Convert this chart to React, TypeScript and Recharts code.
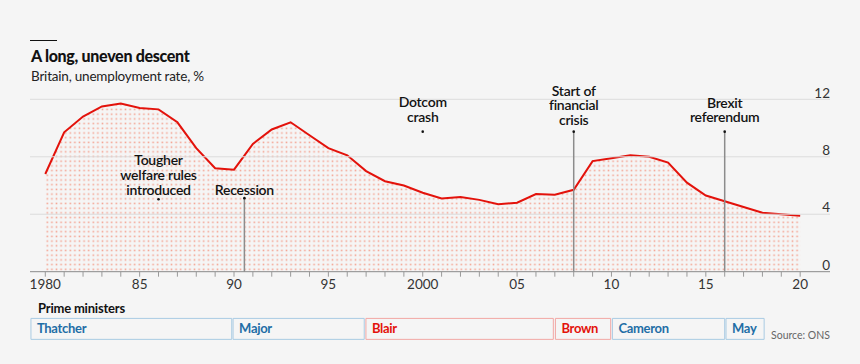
import React from "react";
import {
  Area,
  ComposedChart,
  ReferenceArea,
  ReferenceDot,
  ReferenceLine,
  XAxis,
  YAxis,
} from "recharts";

const years = [
  1980, 1981, 1982, 1983, 1984, 1985, 1986, 1987, 1988, 1989,
  1990, 1991, 1992, 1993, 1994, 1995, 1996, 1997, 1998, 1999,
  2000, 2001, 2002, 2003, 2004, 2005, 2006, 2007, 2008, 2009,
  2010, 2011, 2012, 2013, 2014, 2015, 2016, 2017, 2018, 2019, 2020,
];
const unemployment = [
  6.8, 9.7, 10.8, 11.5, 11.7, 11.4, 11.3, 10.4, 8.6, 7.2,
  7.1, 8.9, 9.9, 10.4, 9.5, 8.6, 8.1, 7.0, 6.3, 6.0,
  5.5, 5.1, 5.2, 5.0, 4.7, 4.8, 5.4, 5.35, 5.7, 7.7,
  7.9, 8.1, 8.0, 7.6, 6.2, 5.3, 4.9, 4.5, 4.1, 4.0, 3.9,
];

const xLabelYears = [1980, 1985, 1990, 1995, 2000, 2005, 2010, 2015, 2020];
const xLabels = ["1980", "85", "90", "95", "2000", "05", "10", "15", "20"];
const yTicks = [0, 4, 8, 12];

const noteText = [
  ["Tougher", "welfare rules", "introduced"],
  ["Recession"],
  ["Dotcom", "crash"],
  ["Start of", "financial", "crisis"],
  ["Brexit", "referendum"],
];
const noteYear = [1986, 1990.55, 2000, 2008, 2016];
const noteTop = [5.04, 5.12, 9.75, 9.75, 9.75];
const noteHasLine = [false, true, false, true, true];
const noteGap = [4.6, 3.5, 10, 6.7, 9.4];

const pmNames = ["Thatcher", "Major", "Blair", "Brown", "Cameron", "May"];
const pmStart = [1979.24, 1989.95, 1996.99, 2007.03, 2010.05, 2016.07];
const pmEnd = [1989.88, 1996.9, 2006.92, 2009.96, 2016.0, 2018.09];
const pmParty = ["con", "con", "lab", "lab", "con", "con"];

const FONT = "Lato, 'Open Sans', Roboto, sans-serif";
const RED = "#e3120b";
const BLUE = "#1f6ea6";
const BG = "#f5f5f5";

const data = years.map((year, i) => ({ year, rate: unemployment[i] }));

const XTick = (props: any) => {
  const { x, y, payload } = props;
  const idx = xLabelYears.indexOf(payload.value);
  if (idx < 0) return null;
  return (
    <text x={x} y={y + 10} textAnchor="middle" fontSize={13.5} fill="#333" fontFamily={FONT}>
      {xLabels[idx]}
    </text>
  );
};

const GridLabel = ({ viewBox, value }: any) => (
  <text
    x={viewBox.x + viewBox.width}
    y={viewBox.y - 1.8}
    textAnchor="end"
    fontSize={13.5}
    fill="#333"
    fontFamily={FONT}
  >
    {value}
  </text>
);

const NoteLabel = ({ viewBox, lines, gap }: any) => {
  const cx = viewBox.x + viewBox.width / 2;
  const cy = viewBox.y + viewBox.height / 2;
  const base = cy - gap;
  return (
    <text
      textAnchor="middle"
      fontSize={14}
      fontWeight={600}
      letterSpacing={-0.25}
      fill="#121212"
      fontFamily={FONT}
    >
      {lines.map((l: string, i: number) => (
        <tspan key={i} x={cx} y={base - (lines.length - 1 - i) * 14.6}>
          {l}
        </tspan>
      ))}
    </text>
  );
};

const PmLabel = ({ viewBox, name, color }: any) => (
  <text
    x={viewBox.x + 6}
    y={viewBox.y + viewBox.height / 2 + 4.5}
    fontSize={13}
    letterSpacing={-0.3}
    fontWeight="bold"
    fill={color}
    fontFamily={FONT}
  >
    {name}
  </text>
);

export default function App() {
  return (
    <div
      style={{
        position: "absolute",
        left: 0,
        top: 0,
        width: 860,
        height: 364,
        background: BG,
        fontFamily: FONT,
        overflow: "hidden",
      }}
    >
      <div style={{ position: "absolute", left: 30, top: 39.5, width: 27, height: 1.3, background: "#111" }} />
      <div
        style={{
          position: "absolute",
          left: 31,
          top: 44.5,
          fontSize: 16,
          letterSpacing: -0.3,
          lineHeight: "22px",
          fontWeight: 900,
          color: "#121212",
        }}
      >
        A long, uneven descent
      </div>
      <div
        style={{
          position: "absolute",
          left: 31,
          top: 67,
          fontSize: 13.5,
          letterSpacing: -0.2,
          lineHeight: "18px",
          color: "#222",
        }}
      >
        Britain, unemployment rate, %
      </div>

      <div style={{ position: "absolute", left: 0, top: 0 }}>
        <ComposedChart
          width={860}
          height={364}
          data={data}
          margin={{ top: 99.3, right: 30, bottom: 72.3, left: 30 }}
        >
          <defs>
            <pattern id="dots" x={45} y={271.7} width={4.6} height={4.7} patternUnits="userSpaceOnUse">
              <rect x={1.5} y={1.5} width={1.6} height={1.6} fill="#f4907b" fillOpacity={0.8} />
            </pattern>
          </defs>
          <XAxis
            dataKey="year"
            type="number"
            domain={[1979.19, 2021.58]}
            ticks={years}
            interval={0}
            height={20}
            tick={<XTick />}
            tickSize={5}
            tickLine={{ stroke: "#9a9a9a" }}
            axisLine={{ stroke: "#8a8a8a" }}
            allowDataOverflow
          />
          <YAxis hide domain={[0, 12]} ticks={yTicks} />
          {yTicks.map((t) => (
            <ReferenceLine
              key={`g${t}`}
              y={t}
              stroke={t === 0 ? "none" : "#dcdcdc"}
              strokeWidth={1}
              label={(p: any) => <GridLabel {...p} value={t} />}
            />
          ))}
          <Area
            type="linear"
            dataKey="rate"
            stroke={RED}
            strokeWidth={2}
            fill="url(#dots)"
            fillOpacity={1}
            dot={false}
            activeDot={false}
            isAnimationActive={false}
          />
          {noteYear.map((yr, i) =>
            noteHasLine[i] ? (
              <ReferenceLine
                key={`l${i}`}
                segment={[
                  { x: yr, y: noteTop[i] },
                  { x: yr, y: 0 },
                ]}
                stroke="#8c8c8c"
                strokeWidth={1.5}
              />
            ) : null
          )}
          {noteYear.map((yr, i) => (
            <ReferenceDot
              key={`d${i}`}
              x={yr}
              y={noteTop[i]}
              r={1.3}
              fill="#111"
              stroke="none"
              label={(p: any) => <NoteLabel {...p} lines={noteText[i]} gap={noteGap[i]} />}
            />
          ))}
          {pmNames.map((name, i) => (
            <ReferenceArea
              key={name}
              x1={pmStart[i]}
              x2={pmEnd[i]}
              y1={-4.71}
              y2={-3.25}
              ifOverflow="visible"
              fill={BG}
              fillOpacity={1}
              stroke={pmParty[i] === "con" ? "#a9cbe3" : "#f2a7a4"}
              strokeWidth={1}
              label={(p: any) => <PmLabel {...p} name={name} color={pmParty[i] === "con" ? BLUE : RED} />}
            />
          ))}
        </ComposedChart>
      </div>

      <div
        style={{
          position: "absolute",
          left: 38,
          top: 299,
          fontSize: 13,
          letterSpacing: -0.2,
          lineHeight: "18px",
          fontWeight: "bold",
          color: "#121212",
        }}
      >
        Prime ministers
      </div>
      <div
        style={{
          position: "absolute",
          right: 30,
          top: 327,
          fontSize: 10.5,
          lineHeight: "16px",
          color: "#666",
        }}
      >
        Source: ONS
      </div>
    </div>
  );
}
